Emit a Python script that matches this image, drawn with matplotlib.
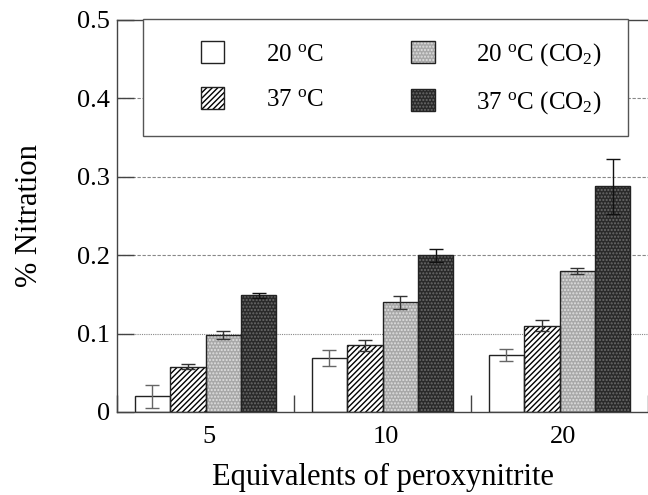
import matplotlib
matplotlib.use("Agg")
import matplotlib.pyplot as plt
from matplotlib.patches import Rectangle
from matplotlib.legend_handler import HandlerTuple
import numpy as np

plt.rcParams['font.family'] = ['Liberation Serif', 'DejaVu Serif']
plt.rcParams['mathtext.fontset'] = 'custom'
plt.rcParams['mathtext.rm'] = 'Liberation Serif'
plt.rcParams['mathtext.it'] = 'Liberation Serif:italic'
plt.rcParams['hatch.linewidth'] = 1.0

# equivalents of peroxynitrite
groups = ['5', '10', '20']
series = ['20 $^{\\mathrm{o}}$C', '37 $^{\\mathrm{o}}$C',
          '20 $^{\\mathrm{o}}$C (CO$_2$)', '37 $^{\\mathrm{o}}$C (CO$_2$)']

nitr_20 = [0.020, 0.069, 0.073]
nitr_37 = [0.058, 0.085, 0.110]
nitr_20_co2 = [0.098, 0.140, 0.180]
nitr_37_co2 = [0.149, 0.200, 0.288]

err_20 = [0.015, 0.010, 0.0075]
err_37 = [0.003, 0.007, 0.007]
err_20_co2 = [0.005, 0.008, 0.004]
err_37_co2 = [0.003, 0.0085, 0.035]

values = [nitr_20, nitr_37, nitr_20_co2, nitr_37_co2]
errors = [err_20, err_37, err_20_co2, err_37_co2]

# fill, hatch colour, hatch pattern per series
faces = ['white', 'white', '#a8a8a8', '#2a2a2a']
hatch_cols = ['white', 'black', '#e0e0e0', '#6a6a6a']
hatches = [None, '//////', '.....', '.....']
err_cols = ['#666666', '#333333', '#333333', '#111111']

fig = plt.figure(figsize=(6.48, 4.95), dpi=100)
ax = fig.add_axes([0.1806, 0.1677, 0.8194, 0.7919])

x = np.arange(len(groups)) + 0.5
width = 0.2
offsets = [-0.3, -0.1, 0.1, 0.3]

handles = []
for vals, errs, fc, hc, h, ec, off in zip(values, errors, faces, hatch_cols,
                                          hatches, err_cols, offsets):
    b1 = ax.bar(x + off, vals, width, color=fc, edgecolor=hc, hatch=h,
                linewidth=0, zorder=2)
    b2 = ax.bar(x + off, vals, width, fill=False, edgecolor='#222222',
                linewidth=1.0, zorder=3)
    ax.errorbar(x + off, vals, yerr=errs, fmt='none', ecolor=ec,
                elinewidth=1.0, capsize=5, capthick=1.0, zorder=4)
    handles.append((b1[0], b2[0]))

# grid
for yv, ls in zip([0.1, 0.2, 0.3, 0.4], [(0, (1, 1)), (0, (3, 1.5)), (0, (3, 1.5)), (0, (3, 1.5))]):
    ax.axhline(yv, color='#888888', lw=0.8, linestyle=ls, zorder=0)

ax.set_xlim(0, 2.95)
ax.set_ylim(0, 0.5)
ax.set_yticks([0, 0.1, 0.2, 0.3, 0.4, 0.5])
ax.set_yticklabels(['0', '0.1', '0.2', '0.3', '0.4', '0.5'])
ax.set_xticks([0, 1, 2, 3])
ax.set_xticklabels([])
ax.set_xticks(x + 0.02, minor=True)
ax.set_xticklabels(groups, minor=True)
ax.tick_params(axis='x', which='major', direction='in', length=12, width=1, color='#444444')
ax.tick_params(axis='x', which='minor', length=0, pad=10, labelsize=19)
ax.tick_params(axis='y', direction='in', length=12, width=1, color='#444444',
               labelsize=19, pad=5, right=False)

for s in ['left', 'bottom', 'top']:
    ax.spines[s].set_color('#444444')
    ax.spines[s].set_linewidth(1.0)
ax.spines['right'].set_visible(False)

ax.set_ylabel('% Nitration', fontsize=22, labelpad=24)
ax.set_xlabel('Equivalents of peroxynitrite', fontsize=22, labelpad=11)

# legend box
frame = Rectangle((0.049, 0.704), 0.913, 0.299, transform=ax.transAxes,
                  facecolor='white', edgecolor='#555555', lw=1.0,
                  zorder=5, clip_on=False)
ax.add_patch(frame)
leg = ax.legend(handles, series,
                handler_map={tuple: HandlerTuple(ndivide=1, pad=0)},
                ncol=2, loc='center', bbox_to_anchor=(0.535, 0.85),
                frameon=False, fontsize=18, handlelength=0.95, handleheight=0.95,
                handletextpad=1.65, columnspacing=3.5, labelspacing=0.85)
leg.set_zorder(6)

fig.savefig('out.png', dpi=100)
